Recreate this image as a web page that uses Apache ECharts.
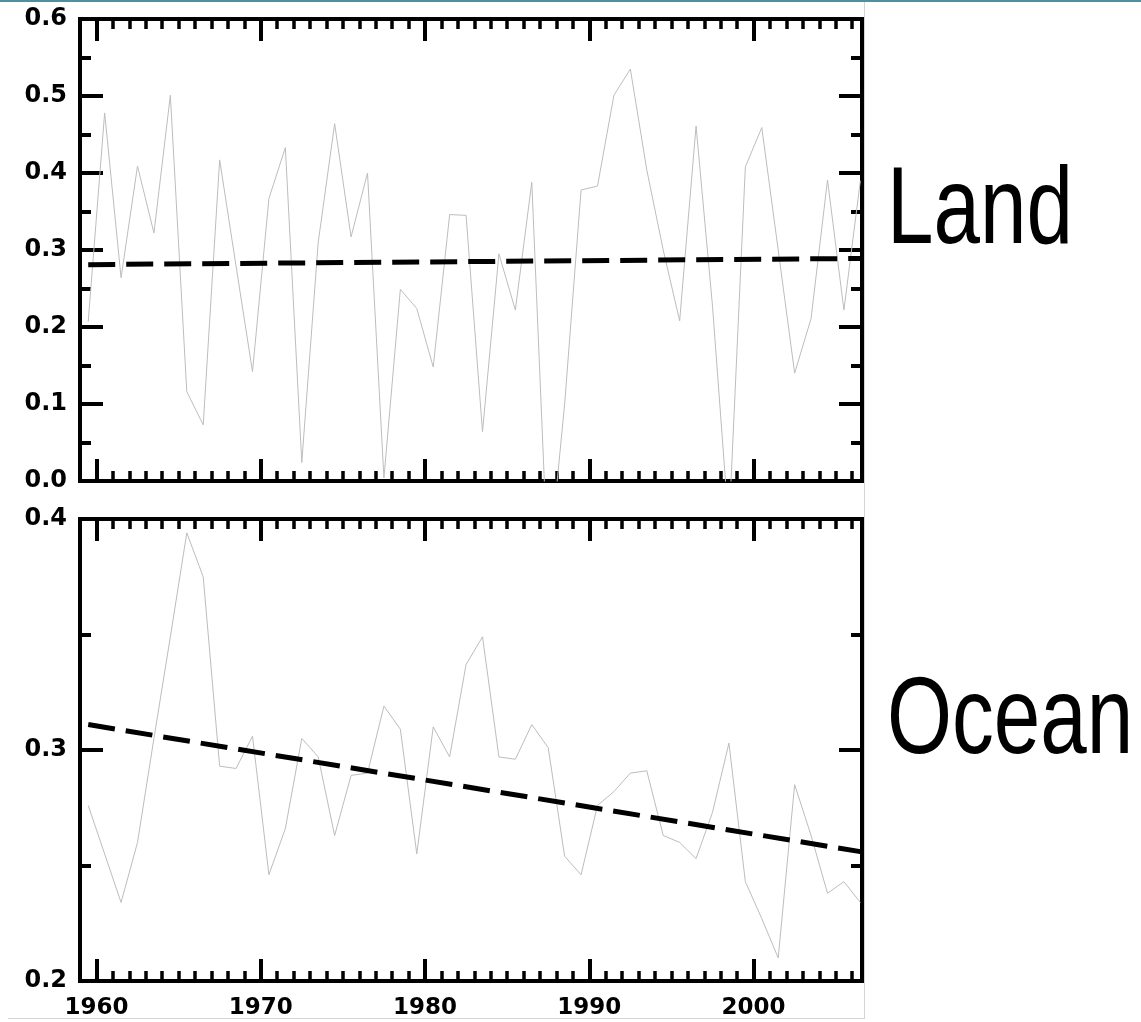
<!DOCTYPE html>
<html>
<head>
<meta charset="utf-8">
<title>Land / Ocean</title>
<script src="https://cdn.jsdelivr.net/npm/echarts@6/dist/echarts.min.js"></script>
<style>
    html, body { margin: 0; padding: 0; background: #fff; }
    #main { width: 1141px; height: 1022px; }
</style>
</head>
<body>
<div id="main"></div>
<script>
// annual values, plotted at mid-year
var years = [1959, 1960, 1961, 1962, 1963, 1964, 1965, 1966, 1967, 1968,
    1969, 1970, 1971, 1972, 1973, 1974, 1975, 1976, 1977, 1978,
    1979, 1980, 1981, 1982, 1983, 1984, 1985, 1986, 1987, 1988,
    1989, 1990, 1991, 1992, 1993, 1994, 1995, 1996, 1997, 1998,
    1999, 2000, 2001, 2002, 2003, 2004, 2005, 2006];

var land = [0.207, 0.478, 0.264, 0.409, 0.322, 0.501, 0.116, 0.073, 0.417, 0.279,
    0.142, 0.367, 0.433, 0.024, 0.31, 0.464, 0.317, 0.400, 0.004, 0.249,
    0.224, 0.148, 0.346, 0.345, 0.064, 0.295, 0.222, 0.388, -0.12, 0.10,
    0.378, 0.383, 0.501, 0.535, 0.404, 0.30, 0.208, 0.461, 0.227, -0.06,
    0.408, 0.459, 0.30, 0.140, 0.211, 0.391, 0.222, 0.39];

var ocean = [0.276, 0.255, 0.234, 0.260, 0.305, 0.349, 0.394, 0.375, 0.293, 0.292,
    0.306, 0.246, 0.266, 0.305, 0.297, 0.263, 0.289, 0.290, 0.319, 0.309,
    0.255, 0.310, 0.297, 0.337, 0.349, 0.297, 0.296, 0.311, 0.301, 0.254,
    0.246, 0.276, 0.282, 0.290, 0.291, 0.263, 0.260, 0.253, 0.273, 0.303,
    0.243, 0.227, 0.210, 0.285, 0.263, 0.238, 0.243, 0.234];

// linear trends, start and end value
var landTrend = [0.281, 0.289];
var oceanTrend = [0.311, 0.256];

var yearTicks = [1960, 1970, 1980, 1990, 2000];
var landTicks = [0, 0.1, 0.2, 0.3, 0.4, 0.5, 0.6];
var landMinor = [0.05, 0.15, 0.25, 0.35, 0.45, 0.55];
var oceanTicks = [0.2, 0.3, 0.4];
var oceanMinor = [0.25, 0.35];

var labelFont = 'DejaVu Sans';
var nameFont = '110px "Liberation Sans", Arial, sans-serif';

window.onload = function () {

    function xAxis(grid, pos, ticks, len, w, labels) {
        return {
            type: 'value', gridIndex: grid, position: pos,
            min: 1959, max: 2006.6,
            axisLine: { show: true, onZero: false, lineStyle: { color: '#000', width: 4, cap: 'square' } },
            axisTick: { show: true, inside: true, length: len, customValues: ticks,
                lineStyle: { color: '#000', width: w } },
            axisLabel: labels ? {
                show: true, customValues: yearTicks, margin: 16, color: '#000',
                fontFamily: labelFont, fontWeight: 900, fontSize: 23,
                formatter: function (v) { return String(v); }
            } : { show: false },
            splitLine: { show: false }
        };
    }

    function yAxis(grid, pos, min, max, ticks, len, w, labels) {
        return {
            type: 'value', gridIndex: grid, position: pos,
            min: min, max: max,
            axisLine: { show: true, onZero: false, lineStyle: { color: '#000', width: 4, cap: 'square' } },
            axisTick: { show: true, inside: true, length: len, customValues: ticks,
                lineStyle: { color: '#000', width: w } },
            axisLabel: labels ? {
                show: true, customValues: labels, margin: 13, color: '#000',
                fontFamily: labelFont, fontWeight: 900, fontSize: 24,
                formatter: function (v) { return v.toFixed(1); }
            } : { show: false },
            splitLine: { show: false }
        };
    }

    function pts(vals) {
        return years.map(function (y, i) { return [y + 0.5, vals[i]]; });
    }

    function trend(t) {
        return [[years[0] + 0.5, t[0]], [years[years.length - 1] + 0.5, t[1]]];
    }

    var xAxes = [], yAxes = [];
    [0, 1].forEach(function (g) {
        xAxes.push(xAxis(g, 'bottom', yearTicks, 22, 4, g == 1));
        xAxes.push(xAxis(g, 'bottom', years, 10, 3.5, false));
        xAxes.push(xAxis(g, 'top', yearTicks, 22, 4, false));
        xAxes.push(xAxis(g, 'top', years, 10, 3.5, false));
    });
    yAxes.push(yAxis(0, 'left', 0, 0.6, landTicks, 23, 4, landTicks));
    yAxes.push(yAxis(0, 'left', 0, 0.6, landMinor, 11, 4, null));
    yAxes.push(yAxis(0, 'right', 0, 0.6, landTicks, 23, 4, null));
    yAxes.push(yAxis(0, 'right', 0, 0.6, landMinor, 11, 4, null));
    yAxes.push(yAxis(1, 'left', 0.2, 0.4, oceanTicks, 23, 4, oceanTicks));
    yAxes.push(yAxis(1, 'left', 0.2, 0.4, oceanMinor, 11, 4, null));
    yAxes.push(yAxis(1, 'right', 0.2, 0.4, oceanTicks, 23, 4, null));
    yAxes.push(yAxis(1, 'right', 0.2, 0.4, oceanMinor, 11, 4, null));

    var chart = echarts.init(document.getElementById('main'));
    chart.setOption({
        backgroundColor: '#fff',
        animation: false,
        grid: [
            { left: 80, top: 19, width: 782, height: 462 },
            { left: 80, top: 519, width: 782, height: 462 }
        ],
        xAxis: xAxes,
        yAxis: yAxes,
        series: [
            { type: 'line', xAxisIndex: 0, yAxisIndex: 0, data: pts(land), symbol: 'none',
                lineStyle: { color: '#bdbdbd', width: 1 } },
            { type: 'line', xAxisIndex: 0, yAxisIndex: 0, data: trend(landTrend), symbol: 'none',
                lineStyle: { color: '#000', width: 5, type: [27, 11] } },
            { type: 'line', xAxisIndex: 4, yAxisIndex: 4, data: pts(ocean), symbol: 'none',
                lineStyle: { color: '#bdbdbd', width: 1 } },
            { type: 'line', xAxisIndex: 4, yAxisIndex: 4, data: trend(oceanTrend), symbol: 'none',
                lineStyle: { color: '#000', width: 5, type: [27, 11] } }
        ],
        graphic: [
            { type: 'rect', shape: { x: 0, y: 0, width: 1141, height: 2 }, style: { fill: '#4f8fa0' } },
            { type: 'rect', shape: { x: 864, y: 2, width: 1, height: 1017 }, style: { fill: '#d4d4d4' } },
            { type: 'rect', shape: { x: 8, y: 1018, width: 857, height: 1 }, style: { fill: '#d4d4d4' } },
            { type: 'text', x: 887, y: 213, scaleX: 0.76, style: { text: 'Land', fill: '#000',
                font: nameFont, verticalAlign: 'middle' } },
            { type: 'text', x: 887, y: 723, scaleX: 0.76, style: { text: 'Ocean', fill: '#000',
                font: nameFont, verticalAlign: 'middle' } }
        ]
    });
};
</script>
</body>
</html>
